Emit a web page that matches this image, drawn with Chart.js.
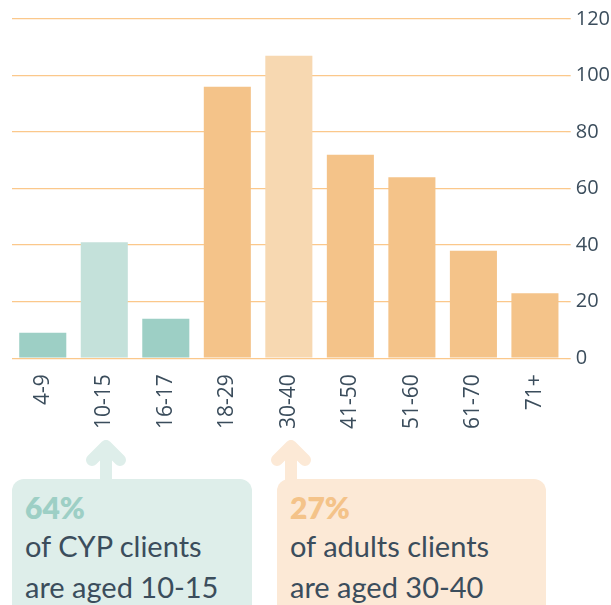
<!DOCTYPE html>
<html>
<head>
<meta charset="utf-8">
<script src="https://cdn.jsdelivr.net/npm/chart.js@4/dist/chart.umd.min.js"></script>
<style>
  html, body { margin: 0; padding: 0; background: #fff; }
  body { width: 611px; height: 605px; position: relative; overflow: hidden; }
  #wrap { position: absolute; left: 0; top: 0; width: 615px; height: 455px; }
  .box { position: absolute; top: 479px; height: 160px; border-radius: 12px; box-sizing: border-box; padding: 12px 0 0 13px; font-family: "Lato", "Open Sans", sans-serif; color: #3b4d5c; font-size: 29px; line-height: 41px; }
  .box .pct { font-weight: 800; font-size: 30px; line-height: 32px; margin-bottom: 2px; }
  #b1 { left: 12px; width: 240px; background: #deeeea; }
  #b1 .pct { color: #9dcfc5; }
  #b2 { left: 277px; width: 269px; background: #fce9d6; }
  #b2 .pct { color: #f4c389; }
  svg.arrow { position: absolute; top: 440px; width: 44px; height: 42px; }
  .pre { position: absolute; left: -1000px; font-family: "Open Sans"; }
</style>
</head>
<body>
<span class="pre">120 10-15</span>
<div id="wrap"><canvas id="c"></canvas></div>
<svg class="arrow" style="left:84px" viewBox="0 0 44 42"><path d="M22 40 L22 6 M8 20 L22 6 L36 20" fill="none" stroke="#deeeea" stroke-width="12" stroke-linecap="round" stroke-linejoin="round"/></svg>
<svg class="arrow" style="left:269px" viewBox="0 0 44 42"><path d="M22 40 L22 6 M8 20 L22 6 L36 20" fill="none" stroke="#fce9d6" stroke-width="12" stroke-linecap="round" stroke-linejoin="round"/></svg>
<div class="box" id="b1"><div class="pct">64%</div>of CYP clients<br>are aged 10-15</div>
<div class="box" id="b2"><div class="pct">27%</div>of adults clients<br>are aged 30-40</div>
<script>
const categories = ['4-9','10-15','16-17','18-29','30-40','41-50','51-60','61-70','71+'];
const clientCounts = [9, 41, 14, 96, 107, 72, 64, 38, 23];
const barColors = ['#9dcfc5','#c4e1da','#9dcfc5','#f4c389','#f7d8b1','#f4c389','#f4c389','#f4c389','#f4c389'];
const yTicks = [0, 20, 40, 60, 80, 100, 120];

function draw() {
  new Chart(document.getElementById('c'), {
    type: 'bar',
    data: {
      labels: categories,
      datasets: [{
        data: clientCounts,
        backgroundColor: barColors,
        borderWidth: 0,
        categoryPercentage: 0.85,
        barPercentage: 0.9
      }]
    },
    options: {
      responsive: true,
      maintainAspectRatio: false,
      animation: false,
      layout: { padding: { left: 12, right: 0, top: 19, bottom: 10 } },
      plugins: { legend: { display: false }, tooltip: { enabled: false } },
      scales: {
        x: {
          grid: { display: false, drawTicks: false },
          border: { display: false },
          ticks: {
            color: '#3b4d5c',
            font: { family: "'Open Sans'", size: 21 },
            minRotation: 90, maxRotation: 90,
            padding: 16
          }
        },
        y: {
          position: 'right',
          min: 0, max: 120,
          afterBuildTicks: (axis) => { axis.ticks = yTicks.map(v => ({ value: v })); },
          grid: { color: '#fbc88b', lineWidth: 1.3, tickLength: 5, drawOnChartArea: true },
          border: { display: false },
          ticks: {
            color: '#3b4d5c',
            font: { family: "'Open Sans'", size: 20 },
            padding: 5
          }
        }
      }
    }
  });
}
Promise.all([
  document.fonts.load('20px "Open Sans"'),
  document.fonts.load('21px "Open Sans"')
]).then(draw, draw);
</script>
</body>
</html>
